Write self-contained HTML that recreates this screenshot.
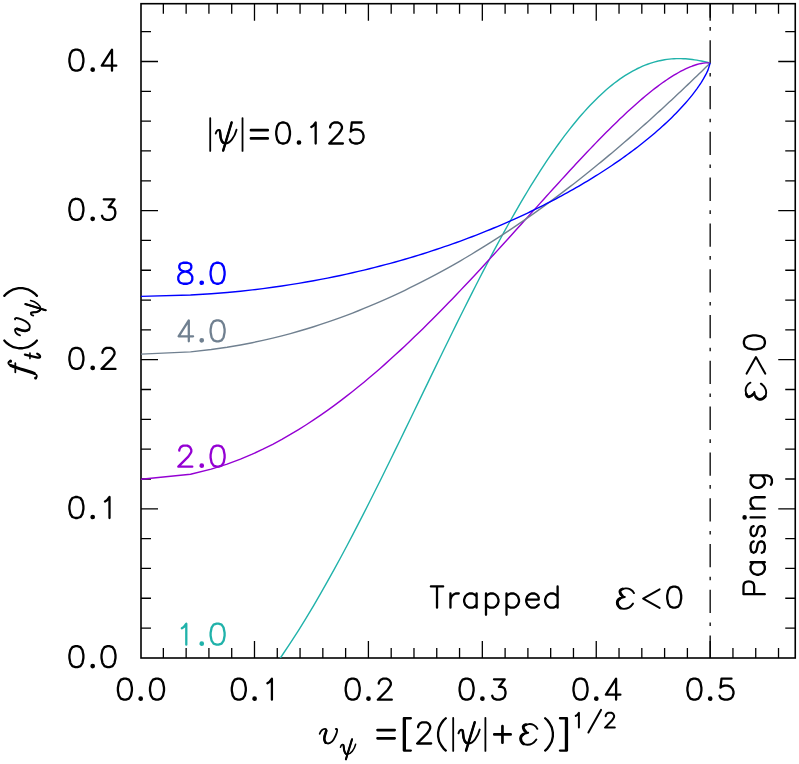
<!DOCTYPE html>
<html><head><meta charset="utf-8"><title>f_t(v_psi)</title>
<style>html,body{margin:0;padding:0;background:#fff;font-family:"Liberation Sans",sans-serif;}svg{display:block}</style>
</head><body>
<svg width="799" height="764" viewBox="0 0 799 764">
<defs><clipPath id="cp"><rect x="141.00" y="3.70" width="654.25" height="654.30"/></clipPath></defs>
<path d="M710.17 3.70 V658.00" stroke="#000" stroke-width="1.3" stroke-dasharray="23.3 9.4 3.6 9.5" stroke-dashoffset="9.3" fill="none"/>
<rect x="141.00" y="3.70" width="654.25" height="654.30" fill="none" stroke="#000" stroke-width="1.60"/>
<path d="M163.35 658.00 v-10.00 M163.35 3.70 v10.00 M186.14 658.00 v-10.00 M186.14 3.70 v10.00 M208.92 658.00 v-10.00 M208.92 3.70 v10.00 M231.71 658.00 v-10.00 M231.71 3.70 v10.00 M254.49 658.00 v-17.00 M254.49 3.70 v17.00 M277.27 658.00 v-10.00 M277.27 3.70 v10.00 M300.06 658.00 v-10.00 M300.06 3.70 v10.00 M322.84 658.00 v-10.00 M322.84 3.70 v10.00 M345.63 658.00 v-10.00 M345.63 3.70 v10.00 M368.41 658.00 v-17.00 M368.41 3.70 v17.00 M391.19 658.00 v-10.00 M391.19 3.70 v10.00 M413.98 658.00 v-10.00 M413.98 3.70 v10.00 M436.76 658.00 v-10.00 M436.76 3.70 v10.00 M459.55 658.00 v-10.00 M459.55 3.70 v10.00 M482.33 658.00 v-17.00 M482.33 3.70 v17.00 M505.11 658.00 v-10.00 M505.11 3.70 v10.00 M527.90 658.00 v-10.00 M527.90 3.70 v10.00 M550.68 658.00 v-10.00 M550.68 3.70 v10.00 M573.47 658.00 v-10.00 M573.47 3.70 v10.00 M596.25 658.00 v-17.00 M596.25 3.70 v17.00 M619.03 658.00 v-10.00 M619.03 3.70 v10.00 M641.82 658.00 v-10.00 M641.82 3.70 v10.00 M664.60 658.00 v-10.00 M664.60 3.70 v10.00 M687.39 658.00 v-10.00 M687.39 3.70 v10.00 M710.17 658.00 v-17.00 M710.17 3.70 v17.00 M732.95 658.00 v-10.00 M732.95 3.70 v10.00 M755.74 658.00 v-10.00 M755.74 3.70 v10.00 M778.52 658.00 v-10.00 M778.52 3.70 v10.00 M141.00 628.08 h10.00 M795.25 628.08 h-10.00 M141.00 598.26 h10.00 M795.25 598.26 h-10.00 M141.00 568.44 h10.00 M795.25 568.44 h-10.00 M141.00 538.62 h10.00 M795.25 538.62 h-10.00 M141.00 508.80 h17.00 M795.25 508.80 h-17.00 M141.00 478.98 h10.00 M795.25 478.98 h-10.00 M141.00 449.16 h10.00 M795.25 449.16 h-10.00 M141.00 419.34 h10.00 M795.25 419.34 h-10.00 M141.00 389.52 h10.00 M795.25 389.52 h-10.00 M141.00 359.70 h17.00 M795.25 359.70 h-17.00 M141.00 329.88 h10.00 M795.25 329.88 h-10.00 M141.00 300.06 h10.00 M795.25 300.06 h-10.00 M141.00 270.24 h10.00 M795.25 270.24 h-10.00 M141.00 240.42 h10.00 M795.25 240.42 h-10.00 M141.00 210.60 h17.00 M795.25 210.60 h-17.00 M141.00 180.78 h10.00 M795.25 180.78 h-10.00 M141.00 150.96 h10.00 M795.25 150.96 h-10.00 M141.00 121.14 h10.00 M795.25 121.14 h-10.00 M141.00 91.32 h10.00 M795.25 91.32 h-10.00 M141.00 61.50 h17.00 M795.25 61.50 h-17.00 M141.00 31.68 h10.00 M795.25 31.68 h-10.00 " fill="none" stroke="#000" stroke-width="1.30"/>
<path d="M140.57 764.04 L190.53 749.92 L211.22 735.97 L227.10 722.19 L240.48 708.57 L252.28 695.12 L262.94 681.84 L272.74 668.72 L281.87 655.76 L290.44 642.97 L298.55 630.35 L306.26 617.88 L313.63 605.58 L320.69 593.44 L327.49 581.46 L334.05 569.63 L340.40 557.97 L346.55 546.47 L352.52 535.12 L358.33 523.93 L363.99 512.90 L369.50 502.02 L374.89 491.29 L380.16 480.72 L385.31 470.31 L390.36 460.05 L395.30 449.93 L400.16 439.97 L404.92 430.17 L409.60 420.51 L414.20 411.00 L418.72 401.63 L423.17 392.42 L427.55 383.35 L431.87 374.43 L436.12 365.66 L440.31 357.02 L444.45 348.54 L448.53 340.19 L452.55 331.99 L456.53 323.93 L460.45 316.01 L464.33 308.23 L468.16 300.59 L471.95 293.09 L475.69 285.73 L479.40 278.50 L483.06 271.41 L486.68 264.46 L490.27 257.64 L493.82 250.95 L497.34 244.40 L500.82 237.97 L504.26 231.68 L507.68 225.52 L511.06 219.49 L514.42 213.59 L517.74 207.82 L521.03 202.17 L524.30 196.65 L527.54 191.25 L530.75 185.98 L533.93 180.83 L537.09 175.81 L540.23 170.90 L543.34 166.12 L546.42 161.46 L549.49 156.91 L552.53 152.49 L555.55 148.18 L558.54 143.99 L561.52 139.91 L564.47 135.95 L567.40 132.10 L570.32 128.37 L573.21 124.74 L576.09 121.23 L578.94 117.82 L581.78 114.53 L584.60 111.34 L587.40 108.26 L590.19 105.28 L592.95 102.41 L595.70 99.64 L598.44 96.97 L601.15 94.41 L603.85 91.94 L606.54 89.57 L609.21 87.31 L611.87 85.14 L614.51 83.06 L617.13 81.08 L619.74 79.19 L622.34 77.40 L624.92 75.69 L627.49 74.08 L630.05 72.55 L632.59 71.12 L635.12 69.76 L637.64 68.50 L640.14 67.31 L642.63 66.21 L645.11 65.19 L647.58 64.25 L650.04 63.39 L652.48 62.60 L654.91 61.89 L657.33 61.26 L659.74 60.69 L662.14 60.20 L664.53 59.78 L666.90 59.42 L669.27 59.14 L671.62 58.91 L673.97 58.75 L676.30 58.65 L678.63 58.61 L680.94 58.62 L683.24 58.70 L685.54 58.82 L687.82 59.00 L690.10 59.23 L692.37 59.50 L694.62 59.82 L696.87 60.18 L699.11 60.58 L701.34 61.02 L703.56 61.49 L705.77 61.99 L707.98 62.52 L710.17 63.08" fill="none" stroke="#20b2aa" stroke-width="1.40" stroke-linejoin="round" clip-path="url(#cp)"/>
<path d="M140.57 479.28 L190.53 474.21 L211.22 469.17 L227.10 464.15 L240.48 459.15 L252.28 454.17 L262.94 449.21 L272.74 444.28 L281.87 439.36 L290.44 434.47 L298.55 429.61 L306.26 424.76 L313.63 419.94 L320.69 415.14 L327.49 410.36 L334.05 405.61 L340.40 400.88 L346.55 396.17 L352.52 391.48 L358.33 386.82 L363.99 382.18 L369.50 377.57 L374.89 372.98 L380.16 368.41 L385.31 363.86 L390.36 359.34 L395.30 354.85 L400.16 350.38 L404.92 345.93 L409.60 341.50 L414.20 337.11 L418.72 332.73 L423.17 328.38 L427.55 324.06 L431.87 319.76 L436.12 315.48 L440.31 311.23 L444.45 307.01 L448.53 302.81 L452.55 298.64 L456.53 294.49 L460.45 290.37 L464.33 286.27 L468.16 282.21 L471.95 278.16 L475.69 274.15 L479.40 270.16 L483.06 266.20 L486.68 262.26 L490.27 258.35 L493.82 254.47 L497.34 250.62 L500.82 246.80 L504.26 243.00 L507.68 239.23 L511.06 235.49 L514.42 231.78 L517.74 228.09 L521.03 224.44 L524.30 220.81 L527.54 217.22 L530.75 213.65 L533.93 210.11 L537.09 206.60 L540.23 203.13 L543.34 199.68 L546.42 196.26 L549.49 192.88 L552.53 189.52 L555.55 186.20 L558.54 182.91 L561.52 179.65 L564.47 176.42 L567.40 173.23 L570.32 170.07 L573.21 166.94 L576.09 163.84 L578.94 160.78 L581.78 157.75 L584.60 154.76 L587.40 151.80 L590.19 148.87 L592.95 145.98 L595.70 143.13 L598.44 140.31 L601.15 137.53 L603.85 134.78 L606.54 132.08 L609.21 129.41 L611.87 126.78 L614.51 124.18 L617.13 121.63 L619.74 119.12 L622.34 116.64 L624.92 114.21 L627.49 111.82 L630.05 109.47 L632.59 107.16 L635.12 104.90 L637.64 102.68 L640.14 100.50 L642.63 98.37 L645.11 96.28 L647.58 94.25 L650.04 92.26 L652.48 90.31 L654.91 88.42 L657.33 86.58 L659.74 84.79 L662.14 83.05 L664.53 81.37 L666.90 79.74 L669.27 78.17 L671.62 76.66 L673.97 75.21 L676.30 73.82 L678.63 72.49 L680.94 71.23 L683.24 70.04 L685.54 68.92 L687.82 67.88 L690.10 66.91 L692.37 66.03 L694.62 65.24 L696.87 64.54 L699.11 63.94 L701.34 63.45 L703.56 63.09 L705.77 62.88 L707.98 62.84 L710.17 63.08" fill="none" stroke="#9400d3" stroke-width="1.40" stroke-linejoin="round" clip-path="url(#cp)"/>
<path d="M140.57 354.13 L190.53 351.84 L211.22 349.56 L227.10 347.27 L240.48 344.98 L252.28 342.70 L262.94 340.41 L272.74 338.13 L281.87 335.84 L290.44 333.56 L298.55 331.27 L306.26 328.99 L313.63 326.71 L320.69 324.43 L327.49 322.15 L334.05 319.87 L340.40 317.58 L346.55 315.31 L352.52 313.03 L358.33 310.75 L363.99 308.47 L369.50 306.19 L374.89 303.92 L380.16 301.64 L385.31 299.36 L390.36 297.09 L395.30 294.81 L400.16 292.54 L404.92 290.27 L409.60 287.99 L414.20 285.72 L418.72 283.45 L423.17 281.18 L427.55 278.91 L431.87 276.64 L436.12 274.37 L440.31 272.10 L444.45 269.83 L448.53 267.57 L452.55 265.30 L456.53 263.03 L460.45 260.77 L464.33 258.50 L468.16 256.24 L471.95 253.98 L475.69 251.71 L479.40 249.45 L483.06 247.19 L486.68 244.93 L490.27 242.67 L493.82 240.41 L497.34 238.15 L500.82 235.89 L504.26 233.64 L507.68 231.38 L511.06 229.12 L514.42 226.87 L517.74 224.62 L521.03 222.36 L524.30 220.11 L527.54 217.86 L530.75 215.61 L533.93 213.36 L537.09 211.11 L540.23 208.86 L543.34 206.61 L546.42 204.36 L549.49 202.12 L552.53 199.87 L555.55 197.63 L558.54 195.38 L561.52 193.14 L564.47 190.90 L567.40 188.66 L570.32 186.42 L573.21 184.18 L576.09 181.94 L578.94 179.70 L581.78 177.47 L584.60 175.23 L587.40 173.00 L590.19 170.76 L592.95 168.53 L595.70 166.30 L598.44 164.07 L601.15 161.84 L603.85 159.61 L606.54 157.38 L609.21 155.15 L611.87 152.93 L614.51 150.71 L617.13 148.48 L619.74 146.26 L622.34 144.04 L624.92 141.82 L627.49 139.60 L630.05 137.38 L632.59 135.17 L635.12 132.95 L637.64 130.74 L640.14 128.53 L642.63 126.32 L645.11 124.11 L647.58 121.90 L650.04 119.70 L652.48 117.49 L654.91 115.29 L657.33 113.09 L659.74 110.89 L662.14 108.69 L664.53 106.49 L666.90 104.30 L669.27 102.10 L671.62 99.91 L673.97 97.72 L676.30 95.54 L678.63 93.35 L680.94 91.17 L683.24 88.99 L685.54 86.81 L687.82 84.63 L690.10 82.46 L692.37 80.29 L694.62 78.12 L696.87 75.96 L699.11 73.80 L701.34 71.64 L703.56 69.49 L705.77 67.35 L707.98 65.21 L710.17 63.08" fill="none" stroke="#708090" stroke-width="1.40" stroke-linejoin="round" clip-path="url(#cp)"/>
<path d="M140.57 296.34 L190.53 295.06 L211.22 293.77 L227.10 292.48 L240.48 291.19 L252.28 289.89 L262.94 288.59 L272.74 287.29 L281.87 285.99 L290.44 284.68 L298.55 283.37 L306.26 282.06 L313.63 280.74 L320.69 279.42 L327.49 278.10 L334.05 276.77 L340.40 275.44 L346.55 274.11 L352.52 272.78 L358.33 271.44 L363.99 270.10 L369.50 268.75 L374.89 267.40 L380.16 266.05 L385.31 264.69 L390.36 263.33 L395.30 261.97 L400.16 260.60 L404.92 259.23 L409.60 257.86 L414.20 256.48 L418.72 255.09 L423.17 253.71 L427.55 252.32 L431.87 250.92 L436.12 249.52 L440.31 248.12 L444.45 246.71 L448.53 245.30 L452.55 243.89 L456.53 242.47 L460.45 241.04 L464.33 239.61 L468.16 238.18 L471.95 236.74 L475.69 235.30 L479.40 233.85 L483.06 232.40 L486.68 230.94 L490.27 229.48 L493.82 228.01 L497.34 226.54 L500.82 225.06 L504.26 223.57 L507.68 222.08 L511.06 220.59 L514.42 219.09 L517.74 217.58 L521.03 216.07 L524.30 214.55 L527.54 213.03 L530.75 211.50 L533.93 209.96 L537.09 208.41 L540.23 206.86 L543.34 205.31 L546.42 203.74 L549.49 202.17 L552.53 200.59 L555.55 199.01 L558.54 197.42 L561.52 195.82 L564.47 194.21 L567.40 192.59 L570.32 190.97 L573.21 189.33 L576.09 187.69 L578.94 186.04 L581.78 184.38 L584.60 182.71 L587.40 181.04 L590.19 179.35 L592.95 177.65 L595.70 175.94 L598.44 174.23 L601.15 172.50 L603.85 170.76 L606.54 169.00 L609.21 167.24 L611.87 165.46 L614.51 163.68 L617.13 161.87 L619.74 160.06 L622.34 158.23 L624.92 156.39 L627.49 154.53 L630.05 152.66 L632.59 150.77 L635.12 148.86 L637.64 146.94 L640.14 145.00 L642.63 143.04 L645.11 141.06 L647.58 139.06 L650.04 137.03 L652.48 134.99 L654.91 132.92 L657.33 130.83 L659.74 128.70 L662.14 126.56 L664.53 124.38 L666.90 122.17 L669.27 119.92 L671.62 117.64 L673.97 115.32 L676.30 112.96 L678.63 110.55 L680.94 108.09 L683.24 105.57 L685.54 103.00 L687.82 100.35 L690.10 97.63 L692.37 94.82 L694.62 91.91 L696.87 88.87 L699.11 85.69 L701.34 82.32 L703.56 78.70 L705.77 74.71 L707.98 70.09 L710.17 63.08" fill="none" stroke="#0000ff" stroke-width="1.40" stroke-linejoin="round" clip-path="url(#cp)"/>
<path transform="translate(0.00 699.70)" d="M123.90 -21.00 L120.90 -20.00 L118.90 -17.00 L117.90 -12.00 L117.90 -9.00 L118.90 -4.00 L120.90 -1.00 L123.90 -0.00 L125.90 -0.00 L128.90 -1.00 L130.90 -4.00 L131.90 -9.00 L131.90 -12.00 L130.90 -17.00 L128.90 -20.00 L125.90 -21.00 L123.90 -21.00 M 141.90 -1.00 C 141.90 -1.66 141.36 -2.20 140.70 -2.20 C 140.04 -2.20 139.50 -1.66 139.50 -1.00 C 139.50 -0.34 140.04 0.20 140.70 0.20 C 141.36 0.20 141.90 -0.34 141.90 -1.00 Z M156.00 -21.00 L153.00 -20.00 L151.00 -17.00 L150.00 -12.00 L150.00 -9.00 L151.00 -4.00 L153.00 -1.00 L156.00 -0.00 L158.00 -0.00 L161.00 -1.00 L163.00 -4.00 L164.00 -9.00 L164.00 -12.00 L163.00 -17.00 L161.00 -20.00 L158.00 -21.00 L156.00 -21.00 " fill="none" stroke="#000" stroke-width="2.30" stroke-linecap="round" stroke-linejoin="round"/>
<path transform="translate(0.00 699.70)" d="M237.80 -21.00 L234.80 -20.00 L232.80 -17.00 L231.80 -12.00 L231.80 -9.00 L232.80 -4.00 L234.80 -1.00 L237.80 -0.00 L239.80 -0.00 L242.80 -1.00 L244.80 -4.00 L245.80 -9.00 L245.80 -12.00 L244.80 -17.00 L242.80 -20.00 L239.80 -21.00 L237.80 -21.00 M 255.80 -1.00 C 255.80 -1.66 255.26 -2.20 254.60 -2.20 C 253.94 -2.20 253.40 -1.66 253.40 -1.00 C 253.40 -0.34 253.94 0.20 254.60 0.20 C 255.26 0.20 255.80 -0.34 255.80 -1.00 Z M 267.40 -16.50 L 269.40 -17.70 L 271.90 -21.00 L 271.90 -0.00 " fill="none" stroke="#000" stroke-width="2.30" stroke-linecap="round" stroke-linejoin="round"/>
<path transform="translate(0.00 699.70)" d="M351.70 -21.00 L348.70 -20.00 L346.70 -17.00 L345.70 -12.00 L345.70 -9.00 L346.70 -4.00 L348.70 -1.00 L351.70 -0.00 L353.70 -0.00 L356.70 -1.00 L358.70 -4.00 L359.70 -9.00 L359.70 -12.00 L358.70 -17.00 L356.70 -20.00 L353.70 -21.00 L351.70 -21.00 M 369.70 -1.00 C 369.70 -1.66 369.16 -2.20 368.50 -2.20 C 367.84 -2.20 367.30 -1.66 367.30 -1.00 C 367.30 -0.34 367.84 0.20 368.50 0.20 C 369.16 0.20 369.70 -0.34 369.70 -1.00 Z M378.80 -16.00 L378.80 -17.00 L379.80 -19.00 L380.80 -20.00 L382.80 -21.00 L386.80 -21.00 L388.80 -20.00 L389.80 -19.00 L390.80 -17.00 L390.80 -15.00 L389.80 -13.00 L387.80 -10.00 L377.80 -0.00 L391.80 -0.00 " fill="none" stroke="#000" stroke-width="2.30" stroke-linecap="round" stroke-linejoin="round"/>
<path transform="translate(0.00 699.70)" d="M465.60 -21.00 L462.60 -20.00 L460.60 -17.00 L459.60 -12.00 L459.60 -9.00 L460.60 -4.00 L462.60 -1.00 L465.60 -0.00 L467.60 -0.00 L470.60 -1.00 L472.60 -4.00 L473.60 -9.00 L473.60 -12.00 L472.60 -17.00 L470.60 -20.00 L467.60 -21.00 L465.60 -21.00 M 483.60 -1.00 C 483.60 -1.66 483.06 -2.20 482.40 -2.20 C 481.74 -2.20 481.20 -1.66 481.20 -1.00 C 481.20 -0.34 481.74 0.20 482.40 0.20 C 483.06 0.20 483.60 -0.34 483.60 -1.00 Z M 494.00 -20.40 L 504.70 -20.40 L 498.90 -12.80 L 501.70 -12.80 L 503.70 -12.00 L 504.70 -11.00 L 505.50 -8.00 L 505.50 -6.00 L 504.70 -3.00 L 502.70 -1.00 L 499.70 -0.00 L 496.70 -0.00 L 494.00 -1.00 L 493.00 -2.00 L 492.20 -4.00 " fill="none" stroke="#000" stroke-width="2.30" stroke-linecap="round" stroke-linejoin="round"/>
<path transform="translate(0.00 699.70)" d="M579.50 -21.00 L576.50 -20.00 L574.50 -17.00 L573.50 -12.00 L573.50 -9.00 L574.50 -4.00 L576.50 -1.00 L579.50 -0.00 L581.50 -0.00 L584.50 -1.00 L586.50 -4.00 L587.50 -9.00 L587.50 -12.00 L586.50 -17.00 L584.50 -20.00 L581.50 -21.00 L579.50 -21.00 M 597.50 -1.00 C 597.50 -1.66 596.96 -2.20 596.30 -2.20 C 595.64 -2.20 595.10 -1.66 595.10 -1.00 C 595.10 -0.34 595.64 0.20 596.30 0.20 C 596.96 0.20 597.50 -0.34 597.50 -1.00 Z M 620.40 -5.00 L 605.90 -5.00 L 616.10 -21.00 L 616.10 -0.00 " fill="none" stroke="#000" stroke-width="2.30" stroke-linecap="round" stroke-linejoin="round"/>
<path transform="translate(0.00 699.70)" d="M693.40 -21.00 L690.40 -20.00 L688.40 -17.00 L687.40 -12.00 L687.40 -9.00 L688.40 -4.00 L690.40 -1.00 L693.40 -0.00 L695.40 -0.00 L698.40 -1.00 L700.40 -4.00 L701.40 -9.00 L701.40 -12.00 L700.40 -17.00 L698.40 -20.00 L695.40 -21.00 L693.40 -21.00 M 711.40 -1.00 C 711.40 -1.66 710.86 -2.20 710.20 -2.20 C 709.54 -2.20 709.00 -1.66 709.00 -1.00 C 709.00 -0.34 709.54 0.20 710.20 0.20 C 710.86 0.20 711.40 -0.34 711.40 -1.00 Z M731.50 -21.00 L721.50 -21.00 L720.50 -12.00 L721.50 -13.00 L724.50 -14.00 L727.50 -14.00 L730.50 -13.00 L732.50 -11.00 L733.50 -8.00 L733.50 -6.00 L732.50 -3.00 L730.50 -1.00 L727.50 -0.00 L724.50 -0.00 L721.50 -1.00 L720.50 -2.00 L719.50 -4.00 " fill="none" stroke="#000" stroke-width="2.30" stroke-linecap="round" stroke-linejoin="round"/>
<path transform="translate(66.40 667.10)" d="M9.00 -21.00 L6.00 -20.00 L4.00 -17.00 L3.00 -12.00 L3.00 -9.00 L4.00 -4.00 L6.00 -1.00 L9.00 -0.00 L11.00 -0.00 L14.00 -1.00 L16.00 -4.00 L17.00 -9.00 L17.00 -12.00 L16.00 -17.00 L14.00 -20.00 L11.00 -21.00 L9.00 -21.00 M 27.50 -1.00 C 27.50 -1.66 26.96 -2.20 26.30 -2.20 C 25.64 -2.20 25.10 -1.66 25.10 -1.00 C 25.10 -0.34 25.64 0.20 26.30 0.20 C 26.96 0.20 27.50 -0.34 27.50 -1.00 Z M41.10 -21.00 L38.10 -20.00 L36.10 -17.00 L35.10 -12.00 L35.10 -9.00 L36.10 -4.00 L38.10 -1.00 L41.10 -0.00 L43.10 -0.00 L46.10 -1.00 L48.10 -4.00 L49.10 -9.00 L49.10 -12.00 L48.10 -17.00 L46.10 -20.00 L43.10 -21.00 L41.10 -21.00 " fill="none" stroke="#000" stroke-width="2.30" stroke-linecap="round" stroke-linejoin="round"/>
<path transform="translate(66.40 518.00)" d="M9.00 -21.00 L6.00 -20.00 L4.00 -17.00 L3.00 -12.00 L3.00 -9.00 L4.00 -4.00 L6.00 -1.00 L9.00 -0.00 L11.00 -0.00 L14.00 -1.00 L16.00 -4.00 L17.00 -9.00 L17.00 -12.00 L16.00 -17.00 L14.00 -20.00 L11.00 -21.00 L9.00 -21.00 M 27.50 -1.00 C 27.50 -1.66 26.96 -2.20 26.30 -2.20 C 25.64 -2.20 25.10 -1.66 25.10 -1.00 C 25.10 -0.34 25.64 0.20 26.30 0.20 C 26.96 0.20 27.50 -0.34 27.50 -1.00 Z M 38.60 -16.50 L 40.60 -17.70 L 43.10 -21.00 L 43.10 -0.00 " fill="none" stroke="#000" stroke-width="2.30" stroke-linecap="round" stroke-linejoin="round"/>
<path transform="translate(66.40 368.90)" d="M9.00 -21.00 L6.00 -20.00 L4.00 -17.00 L3.00 -12.00 L3.00 -9.00 L4.00 -4.00 L6.00 -1.00 L9.00 -0.00 L11.00 -0.00 L14.00 -1.00 L16.00 -4.00 L17.00 -9.00 L17.00 -12.00 L16.00 -17.00 L14.00 -20.00 L11.00 -21.00 L9.00 -21.00 M 27.50 -1.00 C 27.50 -1.66 26.96 -2.20 26.30 -2.20 C 25.64 -2.20 25.10 -1.66 25.10 -1.00 C 25.10 -0.34 25.64 0.20 26.30 0.20 C 26.96 0.20 27.50 -0.34 27.50 -1.00 Z M36.10 -16.00 L36.10 -17.00 L37.10 -19.00 L38.10 -20.00 L40.10 -21.00 L44.10 -21.00 L46.10 -20.00 L47.10 -19.00 L48.10 -17.00 L48.10 -15.00 L47.10 -13.00 L45.10 -10.00 L35.10 -0.00 L49.10 -0.00 " fill="none" stroke="#000" stroke-width="2.30" stroke-linecap="round" stroke-linejoin="round"/>
<path transform="translate(66.40 219.80)" d="M9.00 -21.00 L6.00 -20.00 L4.00 -17.00 L3.00 -12.00 L3.00 -9.00 L4.00 -4.00 L6.00 -1.00 L9.00 -0.00 L11.00 -0.00 L14.00 -1.00 L16.00 -4.00 L17.00 -9.00 L17.00 -12.00 L16.00 -17.00 L14.00 -20.00 L11.00 -21.00 L9.00 -21.00 M 27.50 -1.00 C 27.50 -1.66 26.96 -2.20 26.30 -2.20 C 25.64 -2.20 25.10 -1.66 25.10 -1.00 C 25.10 -0.34 25.64 0.20 26.30 0.20 C 26.96 0.20 27.50 -0.34 27.50 -1.00 Z M 37.40 -20.40 L 48.10 -20.40 L 42.30 -12.80 L 45.10 -12.80 L 47.10 -12.00 L 48.10 -11.00 L 48.90 -8.00 L 48.90 -6.00 L 48.10 -3.00 L 46.10 -1.00 L 43.10 -0.00 L 40.10 -0.00 L 37.40 -1.00 L 36.40 -2.00 L 35.60 -4.00 " fill="none" stroke="#000" stroke-width="2.30" stroke-linecap="round" stroke-linejoin="round"/>
<path transform="translate(66.40 70.70)" d="M9.00 -21.00 L6.00 -20.00 L4.00 -17.00 L3.00 -12.00 L3.00 -9.00 L4.00 -4.00 L6.00 -1.00 L9.00 -0.00 L11.00 -0.00 L14.00 -1.00 L16.00 -4.00 L17.00 -9.00 L17.00 -12.00 L16.00 -17.00 L14.00 -20.00 L11.00 -21.00 L9.00 -21.00 M 27.50 -1.00 C 27.50 -1.66 26.96 -2.20 26.30 -2.20 C 25.64 -2.20 25.10 -1.66 25.10 -1.00 C 25.10 -0.34 25.64 0.20 26.30 0.20 C 26.96 0.20 27.50 -0.34 27.50 -1.00 Z M 49.90 -5.00 L 35.40 -5.00 L 45.60 -21.00 L 45.60 -0.00 " fill="none" stroke="#000" stroke-width="2.30" stroke-linecap="round" stroke-linejoin="round"/>
<path transform="translate(175.30 283.75)" d="M8.00 -21.00 L5.00 -20.00 L4.00 -18.00 L4.00 -16.00 L5.00 -14.00 L7.00 -13.00 L11.00 -12.00 L14.00 -11.00 L16.00 -9.00 L17.00 -7.00 L17.00 -4.00 L16.00 -2.00 L15.00 -1.00 L12.00 -0.00 L8.00 -0.00 L5.00 -1.00 L4.00 -2.00 L3.00 -4.00 L3.00 -7.00 L4.00 -9.00 L6.00 -11.00 L9.00 -12.00 L13.00 -13.00 L15.00 -14.00 L16.00 -16.00 L16.00 -18.00 L15.00 -20.00 L12.00 -21.00 L8.00 -21.00 M 27.65 -1.00 C 27.65 -1.66 27.11 -2.20 26.45 -2.20 C 25.79 -2.20 25.25 -1.66 25.25 -1.00 C 25.25 -0.34 25.79 0.20 26.45 0.20 C 27.11 0.20 27.65 -0.34 27.65 -1.00 Z M41.30 -21.00 L38.30 -20.00 L36.30 -17.00 L35.30 -12.00 L35.30 -9.00 L36.30 -4.00 L38.30 -1.00 L41.30 -0.00 L43.30 -0.00 L46.30 -1.00 L48.30 -4.00 L49.30 -9.00 L49.30 -12.00 L48.30 -17.00 L46.30 -20.00 L43.30 -21.00 L41.30 -21.00 " fill="none" stroke="#0000ff" stroke-width="2.30" stroke-linecap="round" stroke-linejoin="round"/>
<path transform="translate(175.30 341.35)" d="M 17.80 -5.00 L 3.30 -5.00 L 13.50 -21.00 L 13.50 -0.00 M 27.65 -1.00 C 27.65 -1.66 27.11 -2.20 26.45 -2.20 C 25.79 -2.20 25.25 -1.66 25.25 -1.00 C 25.25 -0.34 25.79 0.20 26.45 0.20 C 27.11 0.20 27.65 -0.34 27.65 -1.00 Z M41.30 -21.00 L38.30 -20.00 L36.30 -17.00 L35.30 -12.00 L35.30 -9.00 L36.30 -4.00 L38.30 -1.00 L41.30 -0.00 L43.30 -0.00 L46.30 -1.00 L48.30 -4.00 L49.30 -9.00 L49.30 -12.00 L48.30 -17.00 L46.30 -20.00 L43.30 -21.00 L41.30 -21.00 " fill="none" stroke="#708090" stroke-width="2.30" stroke-linecap="round" stroke-linejoin="round"/>
<path transform="translate(175.30 466.65)" d="M4.00 -16.00 L4.00 -17.00 L5.00 -19.00 L6.00 -20.00 L8.00 -21.00 L12.00 -21.00 L14.00 -20.00 L15.00 -19.00 L16.00 -17.00 L16.00 -15.00 L15.00 -13.00 L13.00 -10.00 L3.00 -0.00 L17.00 -0.00 M 27.65 -1.00 C 27.65 -1.66 27.11 -2.20 26.45 -2.20 C 25.79 -2.20 25.25 -1.66 25.25 -1.00 C 25.25 -0.34 25.79 0.20 26.45 0.20 C 27.11 0.20 27.65 -0.34 27.65 -1.00 Z M41.30 -21.00 L38.30 -20.00 L36.30 -17.00 L35.30 -12.00 L35.30 -9.00 L36.30 -4.00 L38.30 -1.00 L41.30 -0.00 L43.30 -0.00 L46.30 -1.00 L48.30 -4.00 L49.30 -9.00 L49.30 -12.00 L48.30 -17.00 L46.30 -20.00 L43.30 -21.00 L41.30 -21.00 " fill="none" stroke="#9400d3" stroke-width="2.30" stroke-linecap="round" stroke-linejoin="round"/>
<path transform="translate(175.30 644.70)" d="M 6.50 -16.50 L 8.50 -17.70 L 11.00 -21.00 L 11.00 -0.00 M 27.65 -1.00 C 27.65 -1.66 27.11 -2.20 26.45 -2.20 C 25.79 -2.20 25.25 -1.66 25.25 -1.00 C 25.25 -0.34 25.79 0.20 26.45 0.20 C 27.11 0.20 27.65 -0.34 27.65 -1.00 Z M41.30 -21.00 L38.30 -20.00 L36.30 -17.00 L35.30 -12.00 L35.30 -9.00 L36.30 -4.00 L38.30 -1.00 L41.30 -0.00 L43.30 -0.00 L46.30 -1.00 L48.30 -4.00 L49.30 -9.00 L49.30 -12.00 L48.30 -17.00 L46.30 -20.00 L43.30 -21.00 L41.30 -21.00 " fill="none" stroke="#20b2aa" stroke-width="2.30" stroke-linecap="round" stroke-linejoin="round"/>
<path transform="translate(0.00 143.50)" d="M 210.22 -25.40 L 210.22 7.40 M 242.52 -25.40 L 242.52 7.40 " fill="none" stroke="#000" stroke-width="1.80" stroke-linecap="round" stroke-linejoin="round"/>
<path transform="translate(0.00 143.50)" d="M 215.74 -10.00 C 216.52 -12.50 217.70 -14.00 219.07 -13.50 C 220.64 -13.00 220.05 -8.50 220.83 -5.20 C 221.62 -1.50 223.48 -0.00 225.44 -0.00 C 229.85 -0.00 234.75 -6.50 236.51 -13.80 M 231.61 -21.00 L 223.19 7.00 " fill="none" stroke="#000" stroke-width="1.90" stroke-linecap="round" stroke-linejoin="round"/>
<path transform="translate(0.00 143.50)" d="M 231.61 -21.00 L 223.19 7.00 M 219.66 -13.00 C 220.44 -11.50 220.15 -8.20 220.83 -5.20 C 221.32 -3.00 222.21 -1.50 223.28 -0.70 " fill="none" stroke="#000" stroke-width="2.47" stroke-linecap="round" stroke-linejoin="round"/>
<path transform="translate(0.00 143.50)" d="M 250.97 -13.30 L 267.73 -13.30 M 250.97 -5.10 L 267.73 -5.10 " fill="none" stroke="#000" stroke-width="2.70" stroke-linecap="round" stroke-linejoin="round"/>
<path transform="translate(0.00 143.50)" d="M282.12 -21.00 L279.18 -20.00 L277.22 -17.00 L276.24 -12.00 L276.24 -9.00 L277.22 -4.00 L279.18 -1.00 L282.12 -0.00 L284.08 -0.00 L287.02 -1.00 L288.98 -4.00 L289.96 -9.00 L289.96 -12.00 L288.98 -17.00 L287.02 -20.00 L284.08 -21.00 L282.12 -21.00 M 300.18 -1.00 C 300.18 -1.66 299.65 -2.20 299.00 -2.20 C 298.35 -2.20 297.82 -1.66 297.82 -1.00 C 297.82 -0.34 298.35 0.20 299.00 0.20 C 299.65 0.20 300.18 -0.34 300.18 -1.00 Z M 311.27 -16.50 L 313.23 -17.70 L 315.68 -21.00 L 315.68 -0.00 M330.17 -16.00 L330.17 -17.00 L331.15 -19.00 L332.13 -20.00 L334.09 -21.00 L338.01 -21.00 L339.97 -20.00 L340.95 -19.00 L341.93 -17.00 L341.93 -15.00 L340.95 -13.00 L338.99 -10.00 L329.19 -0.00 L342.91 -0.00 M361.60 -21.00 L351.80 -21.00 L350.82 -12.00 L351.80 -13.00 L354.74 -14.00 L357.68 -14.00 L360.62 -13.00 L362.58 -11.00 L363.56 -8.00 L363.56 -6.00 L362.58 -3.00 L360.62 -1.00 L357.68 -0.00 L354.74 -0.00 L351.80 -1.00 L350.82 -2.00 L349.84 -4.00 " fill="none" stroke="#000" stroke-width="2.30" stroke-linecap="round" stroke-linejoin="round"/>
<path transform="translate(0.00 607.70)" d="M 437.02 -21.31 L 437.02 -0.00 M 430.88 -21.31 L 443.16 -21.31 M450.46 -14.21 L450.46 -0.00 M450.46 -8.12 L451.50 -11.16 L453.58 -13.19 L455.66 -14.21 L458.78 -14.21 M476.60 -14.21 L476.60 -0.00 M476.60 -11.16 L474.52 -13.19 L472.44 -14.21 L469.32 -14.21 L467.24 -13.19 L465.16 -11.16 L464.12 -8.12 L464.12 -6.09 L465.16 -3.04 L467.24 -1.01 L469.32 -0.00 L472.44 -0.00 L474.52 -1.01 L476.60 -3.04 M486.01 -14.21 L486.01 7.10 M486.01 -11.16 L488.09 -13.19 L490.17 -14.21 L493.29 -14.21 L495.37 -13.19 L497.45 -11.16 L498.49 -8.12 L498.49 -6.09 L497.45 -3.04 L495.37 -1.01 L493.29 -0.00 L490.17 -0.00 L488.09 -1.01 L486.01 -3.04 M506.51 -14.21 L506.51 7.10 M506.51 -11.16 L508.59 -13.19 L510.67 -14.21 L513.79 -14.21 L515.87 -13.19 L517.95 -11.16 L518.99 -8.12 L518.99 -6.09 L517.95 -3.04 L515.87 -1.01 L513.79 -0.00 L510.67 -0.00 L508.59 -1.01 L506.51 -3.04 M526.22 -8.12 L538.70 -8.12 L538.70 -10.15 L537.66 -12.18 L536.62 -13.19 L534.54 -14.21 L531.42 -14.21 L529.34 -13.19 L527.26 -11.16 L526.22 -8.12 L526.22 -6.09 L527.26 -3.04 L529.34 -1.01 L531.42 -0.00 L534.54 -0.00 L536.62 -1.01 L538.70 -3.04 M557.60 -21.31 L557.60 -0.00 M557.60 -11.16 L555.52 -13.19 L553.44 -14.21 L550.32 -14.21 L548.24 -13.19 L546.16 -11.16 L545.12 -8.12 L545.12 -6.09 L546.16 -3.04 L548.24 -1.01 L550.32 -0.00 L553.44 -0.00 L555.52 -1.01 L557.60 -3.04 " fill="none" stroke="#000" stroke-width="2.30" stroke-linecap="round" stroke-linejoin="round"/>
<path transform="translate(0.00 607.60)" d="M 634.00 -14.50 C 632.50 -18.00 628.50 -19.60 625.50 -19.20 C 622.00 -18.80 619.50 -17.50 620.00 -15.50 C 620.50 -13.00 622.50 -11.00 624.80 -10.60 C 620.50 -10.00 617.30 -8.00 617.30 -5.00 C 617.30 -1.20 620.50 1.30 624.00 1.30 C 628.00 1.30 631.00 -1.00 633.00 -4.00 " fill="none" stroke="#000" stroke-width="1.90" stroke-linecap="round" stroke-linejoin="round"/>
<path transform="translate(0.00 607.60)" d="M 622.50 -18.60 C 620.50 -18.00 619.60 -16.80 620.00 -15.50 C 620.30 -14.00 621.20 -12.80 622.30 -11.80 M 620.00 -9.20 C 618.30 -8.20 617.30 -6.80 617.30 -5.00 C 617.30 -3.00 618.40 -1.00 620.20 0.30 " fill="none" stroke="#000" stroke-width="2.85" stroke-linecap="round" stroke-linejoin="round"/>
<path transform="translate(0.00 607.60)" d="M659.60 -18.24 L643.12 -8.97 L659.60 0.30 " fill="none" stroke="#000" stroke-width="2.00" stroke-linecap="round" stroke-linejoin="round"/>
<path transform="translate(0.00 607.60)" d="M673.20 -21.00 L670.20 -20.00 L668.20 -17.00 L667.20 -12.00 L667.20 -9.00 L668.20 -4.00 L670.20 -1.00 L673.20 -0.00 L675.20 -0.00 L678.20 -1.00 L680.20 -4.00 L681.20 -9.00 L681.20 -12.00 L680.20 -17.00 L678.20 -20.00 L675.20 -21.00 L673.20 -21.00 " fill="none" stroke="#000" stroke-width="2.30" stroke-linecap="round" stroke-linejoin="round"/>
<path transform="translate(764.80 600.40) rotate(-90)" d="M 6.26 -21.31 L 6.26 -0.00 M 6.26 -21.31 L 14.06 -21.31 C 17.18 -21.31 18.95 -19.28 18.95 -16.04 C 18.95 -12.69 17.18 -10.66 14.06 -10.66 L 6.26 -10.66 M38.15 -14.21 L38.15 -0.00 M38.15 -11.16 L36.07 -13.19 L33.99 -14.21 L30.87 -14.21 L28.79 -13.19 L26.71 -11.16 L25.67 -8.12 L25.67 -6.09 L26.71 -3.04 L28.79 -1.01 L30.87 -0.00 L33.99 -0.00 L36.07 -1.01 L38.15 -3.04 M59.01 -11.16 L57.97 -13.19 L54.85 -14.21 L51.73 -14.21 L48.61 -13.19 L47.57 -11.16 L48.61 -9.13 L50.69 -8.12 L55.89 -7.10 L57.97 -6.09 L59.01 -4.06 L59.01 -3.04 L57.97 -1.01 L54.85 -0.00 L51.73 -0.00 L48.61 -1.01 L47.57 -3.04 M 74.27 -11.16 L 73.36 -13.19 L 70.61 -14.21 L 67.87 -14.21 L 65.12 -13.19 L 64.21 -11.16 L 65.12 -9.13 L 66.95 -8.12 L 71.53 -7.10 L 73.36 -6.09 L 74.27 -4.06 L 74.27 -3.04 L 73.36 -1.01 L 70.61 -0.00 L 67.87 -0.00 L 65.12 -1.01 L 64.21 -3.04 M 83.01 -14.21 L 83.01 -0.00 M 84.15 -20.20 C 84.15 -20.82 83.64 -21.31 83.01 -21.31 C 82.38 -21.31 81.87 -20.82 81.87 -20.20 C 81.87 -19.58 82.38 -19.08 83.01 -19.08 C 83.64 -19.08 84.15 -19.58 84.15 -20.20 Z M91.71 -14.21 L91.71 -0.00 M91.71 -10.15 L94.83 -13.19 L96.91 -14.21 L100.03 -14.21 L102.11 -13.19 L103.15 -10.15 L103.15 -0.00 M125.05 -14.21 L125.05 2.03 L124.01 5.07 L122.97 6.09 L120.89 7.10 L117.77 7.10 L115.69 6.09 M125.05 -11.16 L122.97 -13.19 L120.89 -14.21 L117.77 -14.21 L115.69 -13.19 L113.61 -11.16 L112.57 -8.12 L112.57 -6.09 L113.61 -3.04 L115.69 -1.01 L117.77 -0.00 L120.89 -0.00 L122.97 -1.01 L125.05 -3.04 " fill="none" stroke="#000" stroke-width="2.30" stroke-linecap="round" stroke-linejoin="round"/>
<path transform="translate(764.90 600.00) rotate(-90)" d="M 217.35 -14.50 C 215.85 -18.00 211.85 -19.60 208.85 -19.20 C 205.35 -18.80 202.85 -17.50 203.35 -15.50 C 203.85 -13.00 205.85 -11.00 208.15 -10.60 C 203.85 -10.00 200.65 -8.00 200.65 -5.00 C 200.65 -1.20 203.85 1.30 207.35 1.30 C 211.35 1.30 214.35 -1.00 216.35 -4.00 " fill="none" stroke="#000" stroke-width="1.90" stroke-linecap="round" stroke-linejoin="round"/>
<path transform="translate(764.90 600.00) rotate(-90)" d="M 205.85 -18.60 C 203.85 -18.00 202.95 -16.80 203.35 -15.50 C 203.65 -14.00 204.55 -12.80 205.65 -11.80 M 203.35 -9.20 C 201.65 -8.20 200.65 -6.80 200.65 -5.00 C 200.65 -3.00 201.75 -1.00 203.55 0.30 " fill="none" stroke="#000" stroke-width="2.85" stroke-linecap="round" stroke-linejoin="round"/>
<path transform="translate(764.90 600.00) rotate(-90)" d="M226.42 -18.24 L242.90 -8.97 L226.42 0.30 " fill="none" stroke="#000" stroke-width="2.00" stroke-linecap="round" stroke-linejoin="round"/>
<path transform="translate(764.90 600.00) rotate(-90)" d="M256.65 -21.00 L253.65 -20.00 L251.65 -17.00 L250.65 -12.00 L250.65 -9.00 L251.65 -4.00 L253.65 -1.00 L256.65 -0.00 L258.65 -0.00 L261.65 -1.00 L263.65 -4.00 L264.65 -9.00 L264.65 -12.00 L263.65 -17.00 L261.65 -20.00 L258.65 -21.00 L256.65 -21.00 " fill="none" stroke="#000" stroke-width="2.30" stroke-linecap="round" stroke-linejoin="round"/>
<path transform="translate(0.00 743.50)" d="M 319.70 -9.70 C 320.50 -12.12 322.50 -14.44 325.00 -14.64 C 327.00 -14.75 326.60 -11.62 325.40 -9.70 C 324.50 -8.08 324.00 -6.06 324.30 -4.04 C 324.60 -1.52 326.00 -0.00 328.10 -0.00 C 331.50 -0.00 334.00 -4.04 335.50 -7.58 C 336.60 -10.10 337.40 -12.62 337.10 -13.94 C 336.90 -14.75 336.20 -14.85 335.75 -14.54 M 453.20 -25.65 L 453.20 7.47 M 485.40 -25.65 L 485.40 7.47 " fill="none" stroke="#000" stroke-width="1.80" stroke-linecap="round" stroke-linejoin="round"/>
<path transform="translate(0.00 743.50)" d="M 326.30 -12.73 C 326.00 -11.11 324.20 -8.08 324.30 -4.54 C 324.40 -3.03 324.80 -1.82 325.60 -0.91 " fill="none" stroke="#000" stroke-width="2.61" stroke-linecap="round" stroke-linejoin="round"/>
<path transform="translate(0.00 743.50)" d="M 340.53 3.63 C 341.09 1.84 341.95 0.76 342.94 1.12 C 344.08 1.48 343.65 4.70 344.22 7.07 C 344.79 9.72 346.14 10.80 347.56 10.80 C 350.75 10.80 354.30 6.14 355.58 0.90 M 352.03 -4.26 L 345.92 15.82 " fill="none" stroke="#000" stroke-width="1.60" stroke-linecap="round" stroke-linejoin="round"/>
<path transform="translate(0.00 743.50)" d="M 352.03 -4.26 L 345.92 15.82 M 343.37 1.48 C 343.93 2.55 343.72 4.92 344.22 7.07 C 344.57 8.65 345.21 9.72 345.99 10.30 " fill="none" stroke="#000" stroke-width="2.08" stroke-linecap="round" stroke-linejoin="round"/>
<path transform="translate(0.00 743.50)" d="M 377.55 -13.43 L 394.65 -13.43 M 377.55 -5.15 L 394.65 -5.15 M 502.45 -17.37 L 502.45 -0.81 M 494.25 -9.09 L 510.65 -9.09 " fill="none" stroke="#000" stroke-width="2.70" stroke-linecap="round" stroke-linejoin="round"/>
<path transform="translate(0.00 743.50)" d="M403.85 -25.25 L403.85 7.07 M404.85 -25.25 L404.85 7.07 M403.85 -25.25 L410.85 -25.25 M403.85 7.07 L410.85 7.07 M418.15 -16.16 L418.15 -17.17 L419.15 -19.19 L420.15 -20.20 L422.15 -21.21 L426.15 -21.21 L428.15 -20.20 L429.15 -19.19 L430.15 -17.17 L430.15 -15.15 L429.15 -13.13 L427.15 -10.10 L417.15 -0.00 L431.15 -0.00 M 445.80 -25.25 L 443.60 -23.23 L 441.40 -20.20 L 439.20 -16.16 L 438.10 -11.11 L 438.10 -7.07 L 439.20 -2.02 L 441.40 2.02 L 443.60 5.05 L 445.80 7.07 M 545.15 -25.25 L 547.35 -23.23 L 549.55 -20.20 L 551.75 -16.16 L 552.85 -11.11 L 552.85 -7.07 L 551.75 -2.02 L 549.55 2.02 L 547.35 5.05 L 545.15 7.07 M565.95 -25.25 L565.95 7.07 M566.95 -25.25 L566.95 7.07 M559.95 -25.25 L566.95 -25.25 M559.95 7.07 L566.95 7.07 " fill="none" stroke="#000" stroke-width="2.30" stroke-linecap="round" stroke-linejoin="round"/>
<path transform="translate(0.00 743.50)" d="M 458.50 -10.10 C 459.30 -12.62 460.50 -14.14 461.90 -13.63 C 463.50 -13.13 462.90 -8.59 463.70 -5.25 C 464.50 -1.52 466.40 -0.00 468.40 -0.00 C 472.90 -0.00 477.90 -6.57 479.70 -13.94 M 474.70 -21.21 L 466.10 7.07 M 537.35 -14.64 C 535.85 -18.18 531.85 -19.80 528.85 -19.39 C 525.35 -18.99 522.85 -17.68 523.35 -15.65 C 523.85 -13.13 525.85 -11.11 528.15 -10.71 C 523.85 -10.10 520.65 -8.08 520.65 -5.05 C 520.65 -1.21 523.85 1.31 527.35 1.31 C 531.35 1.31 534.35 -1.01 536.35 -4.04 " fill="none" stroke="#000" stroke-width="1.90" stroke-linecap="round" stroke-linejoin="round"/>
<path transform="translate(0.00 743.50)" d="M 474.70 -21.21 L 466.10 7.07 M 462.50 -13.13 C 463.30 -11.62 463.00 -8.28 463.70 -5.25 C 464.20 -3.03 465.10 -1.52 466.20 -0.71 " fill="none" stroke="#000" stroke-width="2.47" stroke-linecap="round" stroke-linejoin="round"/>
<path transform="translate(0.00 743.50)" d="M 525.85 -18.79 C 523.85 -18.18 522.95 -16.97 523.35 -15.65 C 523.65 -14.14 524.55 -12.93 525.65 -11.92 M 523.35 -9.29 C 521.65 -8.28 520.65 -6.87 520.65 -5.05 C 520.65 -3.03 521.75 -1.01 523.55 0.30 " fill="none" stroke="#000" stroke-width="2.85" stroke-linecap="round" stroke-linejoin="round"/>
<path transform="translate(0.00 743.50)" d="M 575.75 -27.57 L 577.15 -28.41 L 578.90 -30.75 L 578.90 -15.90 M601.00 -33.58 L588.40 -10.95 M605.70 -27.21 L605.70 -27.92 L606.40 -29.33 L607.10 -30.04 L608.50 -30.75 L611.30 -30.75 L612.70 -30.04 L613.40 -29.33 L614.10 -27.92 L614.10 -26.50 L613.40 -25.09 L612.00 -22.97 L605.00 -15.90 L614.80 -15.90 " fill="none" stroke="#000" stroke-width="2.00" stroke-linecap="round" stroke-linejoin="round"/>
<path transform="translate(29.80 400.00) rotate(-90)" d="M 38.85 -19.28 C 38.75 -20.91 37.75 -21.62 36.75 -21.42 C 35.25 -21.01 34.35 -18.87 33.75 -17.24 C 32.75 -14.28 31.25 -10.20 29.95 -5.81 C 29.05 -2.55 28.25 -0.00 27.75 1.43 C 27.05 3.57 26.25 5.61 25.25 6.53 C 24.25 7.34 22.25 7.14 21.80 5.81 M 27.65 -14.48 L 36.85 -14.48 M 64.55 -9.79 C 65.35 -12.24 67.35 -14.59 69.85 -14.79 C 71.85 -14.89 71.45 -11.73 70.25 -9.79 C 69.35 -8.16 68.85 -6.12 69.15 -4.08 C 69.45 -1.53 70.85 -0.00 72.95 -0.00 C 76.35 -0.00 78.85 -4.08 80.35 -7.65 C 81.45 -10.20 82.25 -12.75 81.95 -14.08 C 81.75 -14.89 81.05 -14.99 80.60 -14.69 " fill="none" stroke="#000" stroke-width="1.80" stroke-linecap="round" stroke-linejoin="round"/>
<path transform="translate(29.80 400.00) rotate(-90)" d="M 34.35 -18.87 C 34.15 -18.36 33.95 -17.85 33.75 -17.24 C 32.75 -14.28 31.25 -10.20 29.95 -5.81 C 29.05 -2.55 28.25 -0.00 27.75 1.43 C 27.35 2.65 27.05 3.57 26.65 4.49 M 38.85 -19.28 L 38.85 -19.28 M 21.95 5.81 L 21.95 5.81 " fill="none" stroke="#000" stroke-width="3.06" stroke-linecap="round" stroke-linejoin="round"/>
<path transform="translate(29.80 400.00) rotate(-90)" d="M 45.39 -4.91 L 42.41 7.77 C 42.13 9.58 42.48 10.30 43.33 10.30 C 44.61 10.30 45.68 8.85 46.31 7.40 " fill="none" stroke="#000" stroke-width="2.20" stroke-linecap="round" stroke-linejoin="round"/>
<path transform="translate(29.80 400.00) rotate(-90)" d="M 41.42 0.16 L 46.88 0.16 M 84.38 3.56 C 84.94 1.75 85.80 0.66 86.79 1.02 C 87.93 1.39 87.50 4.64 88.07 7.03 C 88.64 9.71 89.98 10.80 91.40 10.80 C 94.60 10.80 98.15 6.09 99.43 0.81 M 95.88 -4.41 L 89.77 15.87 " fill="none" stroke="#000" stroke-width="1.60" stroke-linecap="round" stroke-linejoin="round"/>
<path transform="translate(29.80 400.00) rotate(-90)" d="M 59.45 -25.50 L 57.25 -23.46 L 55.05 -20.40 L 52.85 -16.32 L 51.75 -11.22 L 51.75 -7.14 L 52.85 -2.04 L 55.05 2.04 L 57.25 5.10 L 59.45 7.14 M 104.10 -25.50 L 106.30 -23.46 L 108.50 -20.40 L 110.70 -16.32 L 111.80 -11.22 L 111.80 -7.14 L 110.70 -2.04 L 108.50 2.04 L 106.30 5.10 L 104.10 7.14 " fill="none" stroke="#000" stroke-width="2.30" stroke-linecap="round" stroke-linejoin="round"/>
<path transform="translate(29.80 400.00) rotate(-90)" d="M 71.15 -12.85 C 70.85 -11.22 69.05 -8.16 69.15 -4.59 C 69.25 -3.06 69.65 -1.84 70.45 -0.92 " fill="none" stroke="#000" stroke-width="2.61" stroke-linecap="round" stroke-linejoin="round"/>
<path transform="translate(29.80 400.00) rotate(-90)" d="M 95.88 -4.41 L 89.77 15.87 M 87.22 1.39 C 87.78 2.47 87.57 4.86 88.07 7.03 C 88.42 8.63 89.06 9.71 89.84 10.29 " fill="none" stroke="#000" stroke-width="2.08" stroke-linecap="round" stroke-linejoin="round"/>
</svg>
</body></html>
